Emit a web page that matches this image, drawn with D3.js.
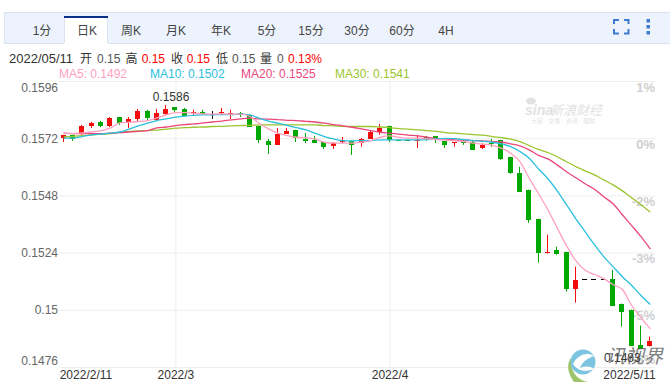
<!DOCTYPE html>
<html>
<head>
<meta charset="utf-8">
<script src="https://cdnjs.cloudflare.com/ajax/libs/d3/7.8.5/d3.min.js"></script>
<style>
html, body { margin: 0; padding: 0; background: #fff; overflow: hidden; }
text { font-family: "Liberation Sans", "Noto Sans CJK SC", sans-serif; font-size: 12px; }
</style>
</head>
<body>
<div id="chart"></div>
<script>
var w = 670;
var h = 382;

// daily candles, prices
var openP = [0.15721,0.15734,0.15738,0.15772,0.15788,0.15772,0.15809,0.15784,0.15801,0.15834,0.15797,0.15822,0.15851,0.15843,0.15826,0.15830,0.15822,0.15830,0.15824,0.15826,0.15818,
	0.15772,0.15709,0.15692,0.15738,0.15755,0.15717,0.15713,0.15704,0.15688,0.15704,0.15709,0.15700,0.15717,0.15746,0.15772,0.15713,0.15713,0.15709,0.15725,0.15730,
	0.15709,0.15700,0.15709,0.15704,0.15679,0.15700,0.15713,0.15642,0.15575,0.15504,0.15382,0.15240,0.15252,0.15244,0.15089,0.15129,0.15129,0.15129,0.15131,0.15026,0.15001,0.14854,0.14850];
var closeP = [0.15734,0.15717,0.15772,0.15784,0.15772,0.15805,0.15784,0.15801,0.15834,0.15805,0.15826,0.15843,0.15839,0.15813,0.15828,0.15820,0.15822,0.15832,0.15826,0.15818,0.15767,
	0.15713,0.15692,0.15738,0.15751,0.15721,0.15709,0.15700,0.15684,0.15700,0.15709,0.15692,0.15717,0.15746,0.15763,0.15713,0.15709,0.15709,0.15713,0.15717,0.15713,
	0.15692,0.15704,0.15700,0.15671,0.15692,0.15696,0.15633,0.15575,0.15495,0.15378,0.15240,0.15244,0.15236,0.15089,0.15127,0.15129,0.15129,0.15129,0.15018,0.14993,0.14850,0.14838,0.14871];
var highP = [0.15734,0.15734,0.15776,0.15788,0.15792,0.15809,0.15809,0.15809,0.15843,0.15839,0.15843,0.15860,0.15851,0.15847,0.15839,0.15839,0.15834,0.15847,0.15839,0.15830,0.15818,
	0.15772,0.15717,0.15763,0.15763,0.15755,0.15742,0.15730,0.15704,0.15704,0.15725,0.15709,0.15721,0.15751,0.15780,0.15772,0.15713,0.15713,0.15734,0.15730,0.15730,
	0.15709,0.15704,0.15717,0.15713,0.15700,0.15717,0.15713,0.15642,0.15600,0.15504,0.15382,0.15315,0.15265,0.15244,0.15181,0.15129,0.15129,0.15129,0.15168,0.15026,0.15001,0.14934,0.14888];
var lowP = [0.15704,0.15709,0.15734,0.15763,0.15767,0.15767,0.15776,0.15763,0.15792,0.15792,0.15792,0.15818,0.15830,0.15813,0.15818,0.15818,0.15801,0.15818,0.15801,0.15809,0.15767,
	0.15700,0.15654,0.15692,0.15738,0.15704,0.15700,0.15700,0.15675,0.15675,0.15700,0.15650,0.15684,0.15717,0.15734,0.15704,0.15709,0.15709,0.15679,0.15709,0.15700,
	0.15679,0.15684,0.15692,0.15671,0.15675,0.15684,0.15629,0.15571,0.15495,0.15365,0.15198,0.15236,0.15231,0.15076,0.15030,0.15129,0.15129,0.15129,0.15018,0.14930,0.14850,0.14838,0.14846];

// moving averages
var ma5 = [0.15739,0.15739,0.15742,0.15746,0.15752,0.15762,0.15784,0.15787,0.15790,0.15794,0.15805,0.15818,0.15827,0.15827,0.15825,0.15822,0.15821,0.15822,0.15821,0.15821,0.15811,
	0.15783,0.15759,0.15741,0.15731,0.15724,0.15722,0.15716,0.15703,0.15699,0.15699,0.15699,0.15703,0.15710,0.15724,0.15730,0.15724,0.15720,0.15720,0.15717,0.15714,
	0.15712,0.15709,0.15706,0.15699,0.15695,0.15691,0.15678,0.15657,0.15622,0.15552,0.15487,0.15420,0.15344,0.15269,0.15206,0.15166,0.15148,0.15131,0.15106,0.15085,0.15018,0.14967,0.14920];
var ma10 = [0.15720,0.15720,0.15727,0.15734,0.15737,0.15741,0.15746,0.15758,0.15772,0.15783,0.15794,0.15801,0.15808,0.15813,0.15816,0.15818,0.15818,0.15819,0.15819,0.15821,0.15818,
	0.15804,0.15792,0.15783,0.15774,0.15764,0.15755,0.15741,0.15727,0.15717,0.15710,0.15709,0.15710,0.15710,0.15713,0.15713,0.15713,0.15713,0.15713,0.15714,0.15717,
	0.15719,0.15718,0.15714,0.15710,0.15707,0.15703,0.15696,0.15685,0.15664,0.15636,0.15591,0.15550,0.15499,0.15441,0.15382,0.15328,0.15273,0.15223,0.15181,0.15139,0.15102,0.15060,0.15022];
var ma20 = [0.15741,0.15739,0.15739,0.15739,0.15739,0.15741,0.15743,0.15746,0.15749,0.15752,0.15763,0.15767,0.15773,0.15777,0.15780,0.15784,0.15788,0.15792,0.15797,0.15801,0.15804,
	0.15801,0.15800,0.15798,0.15795,0.15794,0.15791,0.15788,0.15783,0.15777,0.15772,0.15766,0.15759,0.15752,0.15745,0.15741,0.15737,0.15733,0.15730,0.15724,0.15718,
	0.15716,0.15713,0.15712,0.15710,0.15709,0.15706,0.15704,0.15696,0.15688,0.15671,0.15648,0.15633,0.15608,0.15579,0.15554,0.15529,0.15506,0.15474,0.15445,0.15399,0.15353,0.15307,0.15255];
var ma30 = [0.15727,0.15728,0.15731,0.15734,0.15737,0.15739,0.15745,0.15749,0.15751,0.15752,0.15754,0.15758,0.15762,0.15764,0.15766,0.15767,0.15769,0.15770,0.15772,0.15773,0.15774,
	0.15776,0.15776,0.15776,0.15776,0.15776,0.15776,0.15776,0.15773,0.15772,0.15770,0.15769,0.15769,0.15769,0.15767,0.15764,0.15760,0.15758,0.15755,0.15752,0.15749,
	0.15743,0.15741,0.15738,0.15735,0.15733,0.15727,0.15722,0.15716,0.15706,0.15689,0.15673,0.15660,0.15642,0.15621,0.15601,0.15583,0.15566,0.15545,0.15524,0.15499,0.15470,0.15441,0.15410];

var yTicks = [0.1596, 0.1572, 0.1548, 0.1524, 0.15, 0.1476];
var yLabels = ["0.1596", "0.1572", "0.1548", "0.1524", "0.15", "0.1476"];
var pctLabels = ["1%", "0%", "-2%", "-3%", "-5%", "-6%"];
var dateIdx = [0, 12, 35, 63];
var dateLabels = ["2022/2/11", "2022/3", "2022/4", "2022/5/11"];
var tabs = ["1分", "日K", "周K", "月K", "年K", "5分", "15分", "30分", "60分", "4H"];
var tabX = [42, 87, 131, 176, 221, 267, 311, 357, 402, 446];
var infoText = ["2022/05/11", "开", "0.15", "高", "0.15", "收", "0.15", "低", "0.15", "量", "0", "0.13%"];
var infoX = [9, 80, 97, 125.6, 141.7, 171, 186.7, 216, 232, 260, 277, 288];
var infoColor = ["#333", "#333", "#555", "#333", "#f00", "#333", "#f00", "#333", "#555", "#333", "#555", "#f00"];
var maText = ["MA5: 0.1492", "MA10: 0.1502", "MA20: 0.1525", "MA30: 0.1541"];
var maX = [59, 150, 241, 335];
var maColor = ["#ff9fc0", "#2bc0de", "#e9467a", "#9cc42f"];

var red = "#f40c0c";
var green = "#00a800";

var svg = d3.select("#chart")
	.append("svg")
	.attr("width", w)
	.attr("height", h)
	.style("display", "block");

var xscale = d3.scalePoint()
	.domain(d3.range(openP.length))
	.range([62.7, 649.3]);

var yscale = d3.scaleLinear()
	.domain([0.1476, 0.1596])
	.range([367, 81]);

//////////// TOOLBAR /////////////
svg.append("rect")
	.attr("x", 4.5).attr("y", 12.5)
	.attr("width", 670).attr("height", 31)
	.attr("fill", "#edf3fc")
	.attr("stroke", "#d9e3f3");

svg.append("rect")
	.attr("x", 64).attr("y", 16)
	.attr("width", 44).attr("height", 28)
	.attr("fill", "#fff");
svg.append("rect")
	.attr("x", 64).attr("y", 16)
	.attr("width", 44).attr("height", 2)
	.attr("fill", "#0a2f86");
svg.append("path")
	.attr("d", "M64.5,18V43M107.5,18V43")
	.attr("stroke", "#d9e3f3")
	.attr("fill", "none");

svg.append("g").selectAll("text")
	.data(tabs)
	.enter()
	.append("text")
	.text(function(d) { return d; })
	.attr("x", function(d, i) { return tabX[i]; })
	.attr("y", 34.5)
	.attr("text-anchor", "middle")
	.attr("fill", "#444");

// fullscreen and menu icons
svg.append("path")
	.attr("d", "M614,24V20H619M624,20H628.5V24M628.5,29V33.5H624M619,33.5H614V29")
	.attr("fill", "none")
	.attr("stroke", "#3e7bd0")
	.attr("stroke-width", 2);
svg.append("g").selectAll("rect")
	.data([19, 25, 31])
	.enter()
	.append("rect")
	.attr("x", 646.5)
	.attr("y", function(d) { return d; })
	.attr("width", 3.5)
	.attr("height", 3.5)
	.attr("fill", "#3e7bd0");

//////////// INFO LINES /////////////
svg.append("g").selectAll("text")
	.data(infoText)
	.enter()
	.append("text")
	.text(function(d) { return d; })
	.attr("x", function(d, i) { return infoX[i]; })
	.attr("y", 63)
	.attr("fill", function(d, i) { return infoColor[i]; })
	.style("font-size", function(d, i) { return i == 0 ? "13px" : "12px"; });

svg.append("g").selectAll("text")
	.data(maText)
	.enter()
	.append("text")
	.text(function(d) { return d; })
	.attr("x", function(d, i) { return maX[i]; })
	.attr("y", 77.5)
	.attr("fill", function(d, i) { return maColor[i]; });

//////////// SINA WATERMARK /////////////
var sina = svg.append("g").attr("fill", "#e2e2e2");
sina.append("ellipse")
	.attr("cx", 531).attr("cy", 101)
	.attr("rx", 5).attr("ry", 3.5);
sina.append("text").text("sina")
	.attr("x", 525).attr("y", 115)
	.style("font-size", "14px").style("font-weight", "bold").style("font-style", "italic");
sina.append("text").text("新浪财经")
	.attr("x", 550).attr("y", 115)
	.style("font-size", "13px").style("font-style", "italic");
sina.append("text").text("大宗 · 交易 · 资讯 · 理财")
	.attr("x", 531).attr("y", 122.5)
	.style("font-size", "6px");

//////////// AXES /////////////
var yaxis = d3.axisLeft(yscale)
	.tickValues(yTicks)
	.tickSize(-596)
	.tickPadding(1)
	.tickFormat(function(d, i) { return yLabels[i]; });

var yg = svg.append("g")
	.attr("class", "y axis")
	.attr("transform", "translate(59,0)")
	.call(yaxis);
yg.select(".domain").remove();
yg.selectAll("line").attr("stroke", "#eeeeee");
yg.selectAll("text")
	.attr("fill", "#666")
	.attr("dy", function(d, i) {
		if (i == 0) return 10;
		if (i == yTicks.length - 1) return -2.5;
		return 4;
	})
	.style("font-size", "12px");

var pctaxis = d3.axisLeft(yscale)
	.tickValues(yTicks)
	.tickSize(0)
	.tickPadding(0)
	.tickFormat(function(d, i) { return pctLabels[i]; });

var pg = svg.append("g")
	.attr("class", "pct axis")
	.attr("transform", "translate(655,0)")
	.call(pctaxis);
pg.select(".domain").remove();
pg.selectAll("text")
	.attr("fill", "#cfcfcf")
	.attr("dy", function(d, i) {
		if (i == 0) return 10;
		if (i == yTicks.length - 1) return -3.5;
		return 10;
	})
	.style("font-size", "13px")
	.style("font-weight", "bold");

var xaxis = d3.axisBottom(xscale)
	.tickValues(dateIdx)
	.tickSize(-286)
	.tickPadding(4)
	.tickFormat(function(d, i) { return dateLabels[i]; });

var xg = svg.append("g")
	.attr("class", "x axis")
	.attr("transform", "translate(1,367)")
	.call(xaxis);
xg.select(".domain").remove();
xg.selectAll("line")
	.attr("stroke", "#eeeeee")
	.attr("display", function(d, i) { return (i == 0 || i == dateIdx.length - 1) ? "none" : null; });
xg.selectAll("text")
	.attr("fill", "#333")
	.attr("y", 3)
	.attr("dy", "0.71em")
	.attr("x", function(d, i) {
		if (i == 0) return -4.5;
		if (i == dateIdx.length - 1) return 5;
		return 0;
	})
	.attr("text-anchor", function(d, i) {
		if (i == 0) return "start";
		if (i == dateIdx.length - 1) return "end";
		return "middle";
	});

//////////// CANDLES /////////////
function candleColor(i) {
	if (closeP[i] > openP[i]) return red;
	if (closeP[i] < openP[i]) return green;
	return "#000";
}

var candles = svg.append("g").attr("class", "candles");

candles.selectAll("rect.wick")
	.data(openP)
	.enter()
	.append("rect")
	.attr("class", "wick")
	.attr("x", function(d, i) { return Math.round(xscale(i)); })
	.attr("y", function(d, i) { return yscale(highP[i]); })
	.attr("width", 1)
	.attr("height", function(d, i) { return yscale(lowP[i]) - yscale(highP[i]); })
	.attr("fill", function(d, i) { return candleColor(i); });

candles.selectAll("rect.body")
	.data(openP)
	.enter()
	.append("rect")
	.attr("class", "body")
	.attr("x", function(d, i) { return Math.round(xscale(i)) - 2; })
	.attr("y", function(d, i) { return Math.round(yscale(Math.max(d, closeP[i]))); })
	.attr("width", 5)
	.attr("height", function(d, i) {
		return Math.max(1, Math.round(Math.abs(yscale(d) - yscale(closeP[i]))));
	})
	.attr("fill", function(d, i) { return candleColor(i); });

//////////// MA LINES /////////////
var line = d3.line()
	.x(function(d, i) { return xscale(i) + 1; })
	.y(function(d) { return yscale(d); })
	.curve(d3.curveMonotoneX);

svg.append("g").selectAll("path")
	.data([ma30, ma20, ma10, ma5])
	.enter()
	.append("path")
	.attr("d", line)
	.attr("fill", "none")
	.attr("stroke", function(d, i) { return maColor[3 - i]; })
	.attr("stroke-width", 1.3);

//////////// HIGH / LOW LABELS /////////////
svg.append("text").text("0.1586")
	.attr("x", 171).attr("y", 101)
	.attr("text-anchor", "middle")
	.attr("fill", "#333");
svg.append("text").text("0.1483")
	.attr("x", 604).attr("y", 362)
	.attr("fill", "#333");

//////////// CORNER LOGO /////////////
var logo = svg.append("g");
logo.append("path")
	.attr("d", "M571,358C570,370 576,380 588,382L574,382C568,374 566,364 571,358Z")
	.attr("fill", "#9cc46a");
logo.append("circle")
	.attr("cx", 583).attr("cy", 362).attr("r", 12.5)
	.attr("fill", "#7cc4e0");
logo.append("path")
	.attr("d", "M573,364C578,354 588,352 594,356C588,358 582,362 580,368C585,366 590,366 594,369C588,372 578,372 573,364Z")
	.attr("fill", "#fff");
logo.append("text").text("讯视界")
	.attr("x", 606).attr("y", 363)
	.attr("fill", "#555")
	.attr("opacity", 0.75)
	.style("font-size", "19px")
	.style("font-style", "italic");
</script>
</body>
</html>
